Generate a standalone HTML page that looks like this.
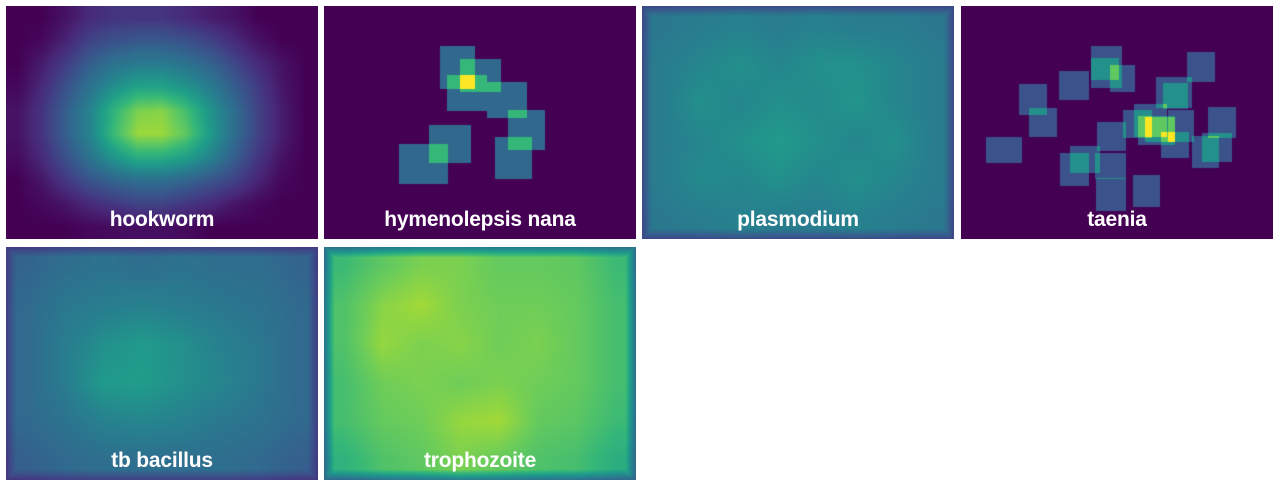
<!DOCTYPE html>
<html><head><meta charset="utf-8"><style>
html,body{margin:0;padding:0;background:#fff;width:1280px;height:487px;overflow:hidden;font-family:"Liberation Sans",sans-serif}
.panel{position:absolute;width:312px;height:233px}
.panel canvas{position:absolute;left:0;top:0;width:312px;height:233px}
.lbl{position:absolute;left:0;right:0;bottom:7px;text-align:center;color:#fff;font-weight:bold;font-size:21px;letter-spacing:-0.2px}
</style></head><body>
<div id="root"></div>
<script>
// ---- data ----
const panelNames=["hookworm","hymenolepsis nana","plasmodium","taenia","tb bacillus","trophozoite"];
const hookwormGrid=[
[0,0,0.05,0.12,0.15,0.15,0.15,0.12,0.08,0.05,0,0,0],
[0,0.02,0.1,0.2,0.25,0.28,0.28,0.25,0.2,0.12,0.05,0,0],
[0,0.08,0.18,0.3,0.38,0.42,0.42,0.38,0.32,0.22,0.12,0.05,0],
[0.02,0.12,0.25,0.38,0.5,0.58,0.58,0.52,0.42,0.3,0.18,0.06,0],
[0.05,0.15,0.3,0.45,0.65,0.8,0.82,0.7,0.52,0.36,0.2,0.08,0],
[0.05,0.15,0.3,0.45,0.68,0.85,0.85,0.75,0.55,0.36,0.2,0.08,0],
[0.03,0.12,0.25,0.38,0.52,0.62,0.62,0.56,0.45,0.3,0.16,0.05,0],
[0,0.06,0.16,0.26,0.32,0.36,0.36,0.32,0.26,0.2,0.1,0.02,0],
[0,0.02,0.06,0.12,0.16,0.2,0.2,0.16,0.12,0.06,0.02,0,0],
[0,0,0,0.02,0.03,0.04,0.04,0.03,0,0,0,0,0]];
const plasmodiumGrid=[
[0.4,0.42,0.44,0.42,0.44,0.42,0.42,0.4],
[0.42,0.46,0.5,0.46,0.5,0.5,0.46,0.42],
[0.42,0.5,0.46,0.5,0.48,0.52,0.46,0.42],
[0.42,0.46,0.5,0.54,0.5,0.46,0.5,0.42],
[0.42,0.48,0.46,0.5,0.46,0.5,0.46,0.42],
[0.4,0.42,0.44,0.42,0.42,0.44,0.42,0.4]];
const tbGrid=[
[0.32,0.36,0.38,0.36,0.38,0.36,0.36,0.32],
[0.34,0.4,0.42,0.44,0.42,0.4,0.38,0.34],
[0.34,0.42,0.5,0.54,0.5,0.44,0.4,0.34],
[0.34,0.42,0.54,0.55,0.5,0.46,0.4,0.34],
[0.34,0.38,0.44,0.46,0.44,0.4,0.38,0.34],
[0.3,0.34,0.36,0.36,0.36,0.36,0.34,0.3]];
const trophozoiteGrid=[
[0.68,0.75,0.8,0.8,0.76,0.76,0.75,0.68],
[0.72,0.82,0.86,0.8,0.78,0.78,0.76,0.7],
[0.72,0.84,0.8,0.82,0.78,0.8,0.76,0.7],
[0.7,0.78,0.8,0.78,0.8,0.78,0.76,0.7],
[0.7,0.76,0.78,0.84,0.86,0.76,0.74,0.68],
[0.64,0.72,0.75,0.8,0.76,0.72,0.7,0.62]];
// boxes in panel-local pixel coords [x0,y0,x1,y1]
const hymenBoxes=[[116,40,151,83],[136,53,177,86],[123,69,163,105],[163,76,203,112],[184,104,221,144],[105,119,147,157],[75,138,124,178],[171,131,208,173]];
const taeniaBoxes=[[130,40,161,82],[130,52,158,74],[149,59,174,86],[98,65,128,94],[58,78,86,109],[68,102,96,131],[195,71,231,102],[202,77,227,103],[226,46,254,76],[173,98,206,131],[162,104,191,132],[177,110,214,139],[184,111,214,136],[207,104,233,136],[200,126,228,152],[247,101,275,132],[231,130,258,162],[241,127,271,156],[25,131,61,157],[136,116,165,145],[109,140,139,167],[99,147,128,180],[134,147,165,173],[135,172,165,205],[172,169,199,201]];
const hymenMax=3, taeniaMax=4;
// ---- rendering ----
const stops=[[68,1,84],[72,40,120],[62,74,137],[49,104,142],[38,130,142],[31,158,137],[53,183,121],[109,205,89],[180,222,44],[253,231,37]];
function viridis(t){t=Math.max(0,Math.min(1,t));const p=t*(stops.length-1),i=Math.min(stops.length-2,Math.floor(p)),f=p-i;
return stops[i].map((c,k)=>Math.round(c+(stops[i+1][k]-c)*f));}
const W=312,H=233;
const pos=[[6,6],[324,6],[642,6],[961,6],[6,247],[324,247]];
function gridPanel(cv,g,fade){const ctx=cv.getContext('2d');const im=ctx.createImageData(W,H);const R=g.length,C=g[0].length;
for(let y=0;y<H;y++)for(let x=0;x<W;x++){
let gx=(x+0.5)/W*C-0.5,gy=(y+0.5)/H*R-0.5;gx=Math.max(0,Math.min(C-1,gx));gy=Math.max(0,Math.min(R-1,gy));
const c0=Math.min(C-2,Math.floor(gx)),r0=Math.min(R-2,Math.floor(gy)),fx=gx-c0,fy=gy-r0;
let v=(g[r0][c0]*(1-fx)+g[r0][c0+1]*fx)*(1-fy)+(g[r0+1][c0]*(1-fx)+g[r0+1][c0+1]*fx)*fy;
if(fade){const d=Math.min(x,y,W-1-x,H-1-y);v*=0.55+0.45*Math.min(1,d/10);}
const c=viridis(v),o=(y*W+x)*4;im.data[o]=c[0];im.data[o+1]=c[1];im.data[o+2]=c[2];im.data[o+3]=255;}
ctx.putImageData(im,0,0);}
function boxPanel(cv,boxes,mx){const ctx=cv.getContext('2d');const cnt=new Uint8Array(W*H);
boxes.forEach(b=>{for(let y=b[1];y<b[3];y++)for(let x=b[0];x<b[2];x++)cnt[y*W+x]++;});
const im=ctx.createImageData(W,H);for(let i=0;i<W*H;i++){const v=viridis(cnt[i]/mx);im.data[i*4]=v[0];im.data[i*4+1]=v[1];im.data[i*4+2]=v[2];im.data[i*4+3]=255;}
ctx.putImageData(im,0,0);}
const root=document.getElementById('root');
panelNames.forEach((n,i)=>{const d=document.createElement('div');d.className='panel';d.style.left=pos[i][0]+'px';d.style.top=pos[i][1]+'px';


const cv=document.createElement('canvas');cv.width=W;cv.height=H;


d.appendChild(cv);
if(i===0)gridPanel(cv,hookwormGrid,false);else if(i===1)boxPanel(cv,hymenBoxes,hymenMax);else if(i===2)gridPanel(cv,plasmodiumGrid,true);
else if(i===3)boxPanel(cv,taeniaBoxes,taeniaMax);else if(i===4)gridPanel(cv,tbGrid,true);else gridPanel(cv,trophozoiteGrid,true);
const l=document.createElement('div');l.className='lbl';l.textContent=n;


d.appendChild(l);root.appendChild(d);});
</script>
</body></html>
